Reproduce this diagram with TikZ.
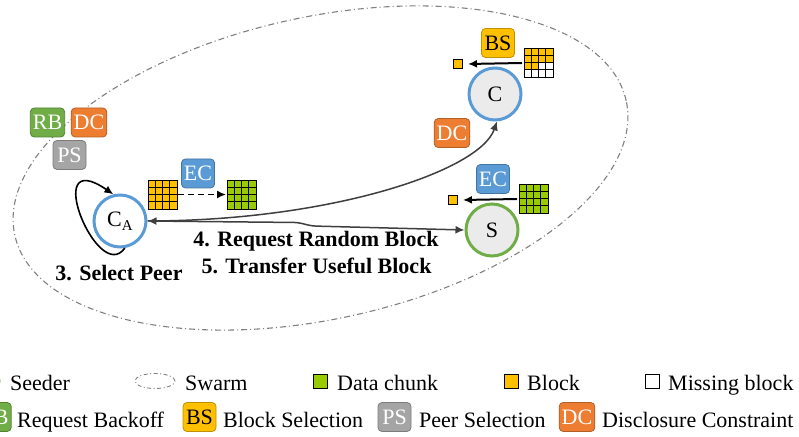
\documentclass[tikz,border=0pt]{standalone}
\usepackage{fontspec}
\setmainfont{LiberationSerif}[Extension=.ttf, UprightFont=*-Regular, BoldFont=*-Bold, ItalicFont=*-Italic, BoldItalicFont=*-BoldItalic]
\usetikzlibrary{arrows.meta}
\definecolor{rbgreen}{HTML}{70AD47}
\definecolor{dcorange}{HTML}{ED7D31}
\definecolor{psgray}{HTML}{A5A5A5}
\definecolor{bsgold}{HTML}{FFC000}
\definecolor{ecblue}{HTML}{5B9BD5}
\definecolor{chunkgreen}{HTML}{99CC00}
\definecolor{peerfill}{HTML}{EBEBEB}
\definecolor{linkgray}{HTML}{3F3F3F}
\definecolor{swarmgray}{HTML}{808080}

\tikzset{
  pics/cellgrid/.style n args={2}{code={
    \foreach \r in {0,...,3}{
      \foreach \c in {0,...,3}{
        \pgfmathtruncatemacro\k{\r*4+\c}
        \ifnum\k<#1\relax\def\cellfill{#2}\else\def\cellfill{white}\fi
        \filldraw[fill=\cellfill, draw=black, line width=0.9pt]
          ({-14.5+\c*7.25},{14.5-\r*7.25}) rectangle ++(7.25,-7.25);
      }
    }
  }}
}

\begin{document}
\begin{tikzpicture}[x=1pt, y=1pt, font=\fontsize{22}{26}\selectfont,
  tag/.style={rounded corners=4pt, minimum width=33pt, minimum height=29pt,
              inner xsep=2.5pt, inner ysep=1pt, text=white, line width=0.8pt},
  rbtag/.style={tag, fill=rbgreen, draw=rbgreen!75!black},
  dctag/.style={tag, fill=dcorange, draw=dcorange!75!black},
  pstag/.style={tag, fill=psgray, draw=psgray!75!black},
  bstag/.style={tag, fill=bsgold, draw=bsgold!75!black, text=black},
  ectag/.style={tag, fill=ecblue, draw=ecblue!75!black},
  peer/.style={circle, minimum size=52pt, line width=3pt, inner sep=0pt},
  link/.style={draw=linkgray, line width=1.5pt},
  tip/.style={-{Latex[length=9pt,width=8pt]}},
  blk/.style={draw=black, fill=bsgold, line width=0.9pt, minimum size=9pt, inner sep=0pt},
  legsq/.style={draw=black, line width=0.9pt, minimum size=14pt, inner sep=0pt},
  legtext/.style={anchor=base west, inner sep=0pt},
  swarm/.style={draw=swarmgray, line width=1.1pt, dash pattern=on 6pt off 3pt on 1pt off 3pt}
]
\useasboundingbox (0,0) rectangle (799,436);
\clip (0,0) rectangle (799,436);

% swarm boundary
\draw[swarm] (320.5,268) ellipse [x radius=313, y radius=151, rotate=12.4];

% peers
\node[peer, draw=ecblue, fill=white] (ca) at (120,215)
  {C\raisebox{-0.35ex}{\fontsize{15}{15}\selectfont A}};
\node[peer, draw=ecblue, fill=peerfill] (c) at (495,342) {C};
\node[peer, draw=rbgreen, fill=peerfill] (s) at (492,206) {S};

% policy tags of the client
\node[rbtag] (carb) at (47.5,313.5) {RB};
\node[dctag] (cadc) at (89,313.5) {DC};
\node[pstag] (caps) at (69.5,281) {PS};

% client decodes blocks into a data chunk
\pic at (162.5,241.5) {cellgrid={16}{bsgold}};
\pic at (241.5,241.5) {cellgrid={16}{chunkgreen}};
\coordinate (encfrom) at (178,241.5);
\coordinate (encto) at (226,241.5);
\draw[line width=1.6pt, dash pattern=on 6pt off 4pt, tip] (encfrom) -- (encto);
\node[ectag] (caec) at (198,262.5) {EC};

% peer C selects a block
\pic at (538.5,373.5) {cellgrid={10}{bsgold}};
\node[blk] (cblk) at (458,372) {};
\coordinate (cfrom) at (522,373);
\draw[line width=2pt, tip] (cfrom) -- ([xshift=5pt]cblk.east);
\node[bstag] (cbs) at (498,393) {BS};
\node[dctag] (cdc) at (452,303) {DC};

% seeder encodes a block
\pic at (533.5,237.5) {cellgrid={16}{chunkgreen}};
\node[blk] (sblk) at (453,236) {};
\coordinate (sfrom) at (517,237);
\draw[line width=2pt, tip] (sfrom) -- ([xshift=5pt]sblk.east);
\node[ectag] (sec) at (493,257) {EC};

% select peer loop
\draw[line width=1.6pt, tip] (ca.-80) .. controls (98,150) and (40,292) .. (ca.104);
\node[font=\fontsize{22}{26}\selectfont\bfseries] (selpeer) at (119,163) {3. Select Peer};

% requests and transfers
\draw[link, tip] (ca.east) .. controls (330,215) and (480,265) .. (c.-86);
\draw[link, {Latex[length=9pt,width=8pt]}-{Latex[length=9pt,width=8pt]}, rounded corners=4pt]
  (ca.east) -- (298,213.5) -- (312,210) -- (s.west);
\node[font=\fontsize{22}{26}\selectfont\bfseries] (req) at (316,195) {4. Request Random Block};
\node[font=\fontsize{22}{26}\selectfont\bfseries] (xfer) at (316.5,170) {5. Transfer Useful Block};

% legend, first row
\node[circle, draw=rbgreen, fill=peerfill, line width=3pt, minimum size=24pt] (legseeder) at (-13,55) {};
\node[legtext] (tseeder) at (10,46) {Seeder};
\draw[swarm, line width=0.9pt, dash pattern=on 4pt off 2.5pt on 1pt off 2.5pt] (155,55) ellipse [x radius=20, y radius=7.5];
\node[legtext] (tswarm) at (185,46) {Swarm};
\node[legsq, fill=chunkgreen] (legchunk) at (320.5,55) {};
\node[legtext] (tchunk) at (337,46) {Data chunk};
\node[legsq, fill=bsgold] (legblock) at (511.5,55) {};
\node[legtext] (tblock) at (527,46) {Block};
\node[legsq, fill=white] (legmiss) at (652,55) {};
\node[legtext] (tmiss) at (668,46) {Missing block};

% legend, second row
\node[rbtag] (legrb) at (-6,19) {RB};
\node[legtext] (trb) at (17,9) {Request Backoff};
\node[bstag] (legbs) at (199.5,19) {BS};
\node[legtext] (tbs) at (223,9) {Block Selection};
\node[pstag] (legps) at (394.5,19) {PS};
\node[legtext] (tps) at (419,9) {Peer Selection};
\node[dctag] (legdc) at (577,19) {DC};
\node[legtext] (tdc) at (602,9) {Disclosure Constraint};
\end{tikzpicture}
\end{document}
